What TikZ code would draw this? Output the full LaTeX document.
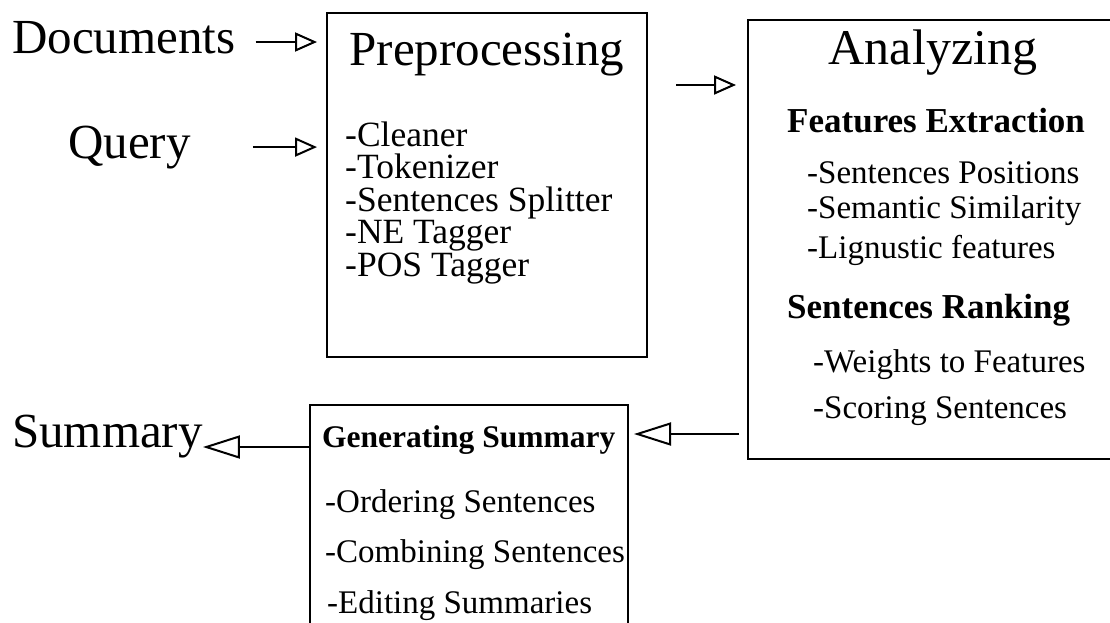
\documentclass[tikz,border=0pt]{standalone}
\usepackage{fontspec}
\setmainfont{Liberation Serif}
\usetikzlibrary{arrows.meta}
\newcommand{\fsz}[1]{\fontsize{#1}{#1}\selectfont}

\begin{document}
\begin{tikzpicture}[x=1pt,y=1pt,
  stagebox/.style={draw,line width=2pt,inner sep=0pt},
  biglbl/.style={font=\fsz{49},inner sep=0pt,anchor=base west},
  ttl/.style={font=\fsz{50},inner sep=0pt,anchor=base},
  sub/.style={font=\bfseries\fsz{35},inner sep=0pt,anchor=base west},
  itm/.style={font=\fsz{33},inner sep=0pt,anchor=base west},
  fwd/.style={-{Triangle[open,length=22pt,width=19pt,line width=2pt]},line width=2pt},
  bwd/.style={-{Triangle[open,length=37pt,width=23pt,line width=2pt]},line width=2pt}]
\clip (0,0) rectangle (1110,-622);
\node[biglbl] (doc) at (12,-53) {Documents};
\node[biglbl] (query) at (68,-158) {Query};
\node[biglbl] (summ) at (12,-447) {Summary};
\node[stagebox,minimum width=320pt,minimum height=344pt] (pre) at (487,-185) {};
\node[stagebox,minimum width=392pt,minimum height=439pt] (ana) at (944,-239.5) {};
\node[stagebox,minimum width=318pt,minimum height=255pt] (gen) at (469,-532.5) {};
% preprocessing
\node[ttl,font=\fsz{49}] (pretitle) at (487,-65) {Preprocessing};
\node[itm,font=\fsz{35.5}] (clean) at (345,-146) {-Cleaner};
\node[itm,font=\fsz{35.5}] (token) at (345,-178.5) {-Tokenizer};
\node[itm,font=\fsz{35.5}] (split) at (345,-211) {-Sentences Splitter};
\node[itm,font=\fsz{35.5}] (netag) at (345,-243.5) {-NE Tagger};
\node[itm,font=\fsz{35.5}] (postag) at (345,-276) {-POS Tagger};
% analyzing
\node[ttl] (anatitle) at (933,-64) {Analyzing};
\node[sub] (featx) at (787,-132) {Features Extraction};
\node[itm] (spos) at (807,-183) {-Sentences Positions};
\node[itm] (ssim) at (807,-218) {-Semantic Similarity};
\node[itm] (lfeat) at (807,-258) {-Lignustic features};
\node[sub] (srank) at (787,-318) {Sentences Ranking};
\node[itm] (wfeat) at (813,-372) {-Weights to Features};
\node[itm] (ssent) at (813,-418) {-Scoring Sentences};
% generating
\node[sub,font=\bfseries\fsz{31.5}] (gentitle) at (322,-447) {Generating Summary};
\node[itm] (order) at (325,-512) {-Ordering Sentences};
\node[itm] (combi) at (325,-562) {-Combining Sentences};
\node[itm] (edit) at (327,-613) {-Editing Summaries};
% arrows
\draw[fwd,shorten <=20pt,shorten >=9pt] ([yshift=11pt]doc.base east) -- ([yshift=11pt]doc.base east -| pre.west);
\draw[fwd,shorten <=62pt,shorten >=9pt] (query.east) -- (query.east -| pre.west);
\draw[fwd,shorten <=28pt,shorten >=11pt] ([yshift=-73pt]pre.north east) -- ([yshift=-73pt]pre.north east -| ana.west);
\draw[bwd,shorten <=8pt,shorten >=5pt] ([yshift=26pt]ana.south west) -- ([yshift=26pt]ana.south west -| gen.east);
\draw[bwd] (summ.base east -| gen.west) -- (summ.base east);
\end{tikzpicture}
\end{document}
